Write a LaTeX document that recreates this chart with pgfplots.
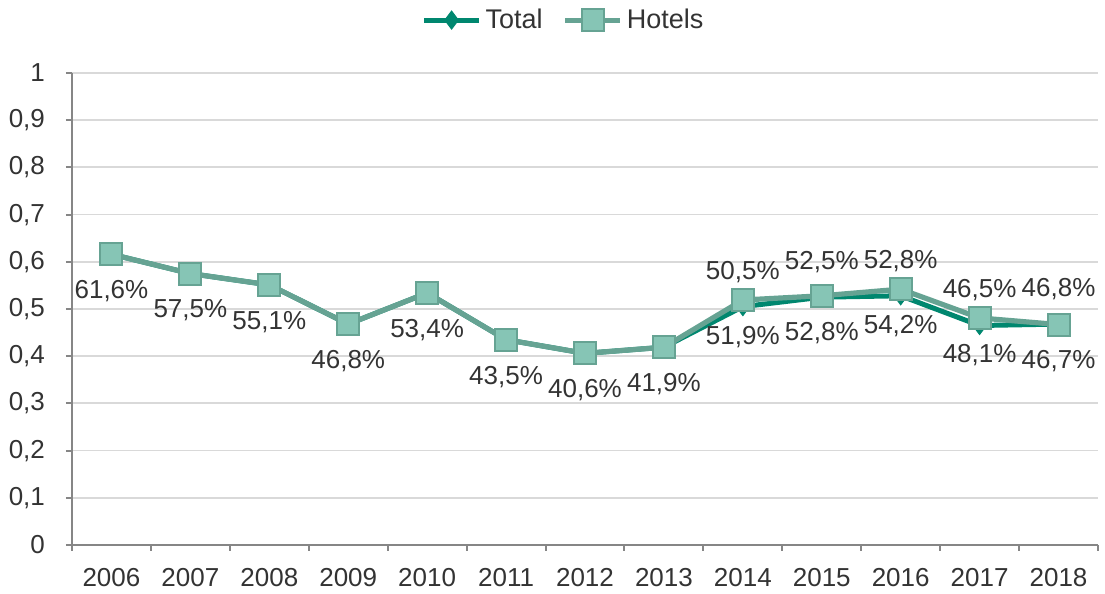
\documentclass[border=0pt]{standalone}
\usepackage{pgfplots}
\pgfplotsset{compat=1.18}
\usepackage{pgfplotstable}
\usepackage{fontspec}
\setmainfont{Liberation Sans}
\definecolor{totalc}{HTML}{00876F}
\definecolor{hotline}{HTML}{66A393}
\definecolor{hotfill}{HTML}{86C5B5}
\definecolor{axisgray}{HTML}{868686}
\definecolor{gridgray}{HTML}{D9D9D9}
\definecolor{txt}{HTML}{333333}

% occupancy rate, 2006 = 0 ... 2018 = 12
\pgfplotstableread{
x y
0 0.616
1 0.575
2 0.551
3 0.468
4 0.534
5 0.435
6 0.406
7 0.419
8 0.505
9 0.525
10 0.528
11 0.465
12 0.468
}\total

\pgfplotstableread{
x y lab
8 0.505 50,5
9 0.525 52,5
10 0.528 52,8
11 0.465 46,5
12 0.468 46,8
}\totallab

\pgfplotstableread{
x y lab
0 0.616 61,6
1 0.575 57,5
2 0.551 55,1
3 0.468 46,8
4 0.534 53,4
5 0.435 43,5
6 0.406 40,6
7 0.419 41,9
8 0.519 51,9
9 0.528 52,8
10 0.542 54,2
11 0.481 48,1
12 0.467 46,7
}\hotels

\begin{document}
\begin{tikzpicture}
\begin{axis}[
    scale only axis,
    width=513pt, height=236pt,
    xmin=-0.5, xmax=12.5,
    ymin=0, ymax=1,
    axis lines*=left,
    axis line style={draw=axisgray, line width=1pt},
    tick align=outside,
    major tick length=3pt,
    tick style={draw=axisgray, line width=1pt},
    xtick={-0.5,0.5,...,12.5},
    x tick label as interval,
    xticklabels={2006,2007,2008,2009,2010,2011,2012,2013,2014,2015,2016,2017,2018},
    ytick={0,0.1,0.2,0.3,0.4,0.5,0.6,0.7,0.8,0.9,1},
    /pgf/number format/use comma,
    /pgf/number format/assume math mode=true,
    ymajorgrids,
    grid style={draw=gridgray, line width=0.9pt},
    tick label style={font=\fontsize{13}{15}\selectfont, text=txt},
    xticklabel style={yshift=-5pt},
    yticklabel style={xshift=-7pt},
    clip=false,
    legend columns=2,
    legend style={at={(0.48,1.112)}, anchor=center, draw=none, fill=none,
        font=\fontsize{13.5}{15}\selectfont, text=txt,
        /tikz/every even column/.append style={column sep=8pt},
        inner sep=0pt, cells={anchor=west}},
    legend image code/.code={
        \draw[mark repeat=2, mark phase=2] plot coordinates {(0pt,0pt) (13.75pt,0pt) (27.5pt,0pt)};},
    nodes near coords style={font=\fontsize{13}{15}\selectfont, text=txt, anchor=center},
]
\addplot[totalc, line width=2.5pt, mark=diamond*, mark size=4.5pt,
    mark options={fill=totalc, draw=totalc, line width=0.5pt}]
    table[x=x, y=y] {\total};
\addlegendentry{Total}
\addplot[hotline, line width=2.6pt, mark=square*, mark size=5.5pt,
    mark options={fill=hotfill, draw=hotline, line width=1pt},
    nodes near coords={\pgfplotspointmeta\%}, point meta=explicit symbolic,
    nodes near coords style={yshift=-18.5pt}]
    table[x=x, y=y, meta=lab] {\hotels};
\addlegendentry{Hotels}
\addplot[draw=none, mark=none, forget plot,
    nodes near coords={\pgfplotspointmeta\%}, point meta=explicit symbolic,
    nodes near coords style={yshift=17.5pt}]
    table[x=x, y=y, meta=lab] {\totallab};
\end{axis}
\path ([xshift=-36pt, yshift=-23pt]current axis.south west)
    rectangle ([xshift=3.5pt, yshift=36.5pt]current axis.north east);
\end{tikzpicture}
\end{document}
